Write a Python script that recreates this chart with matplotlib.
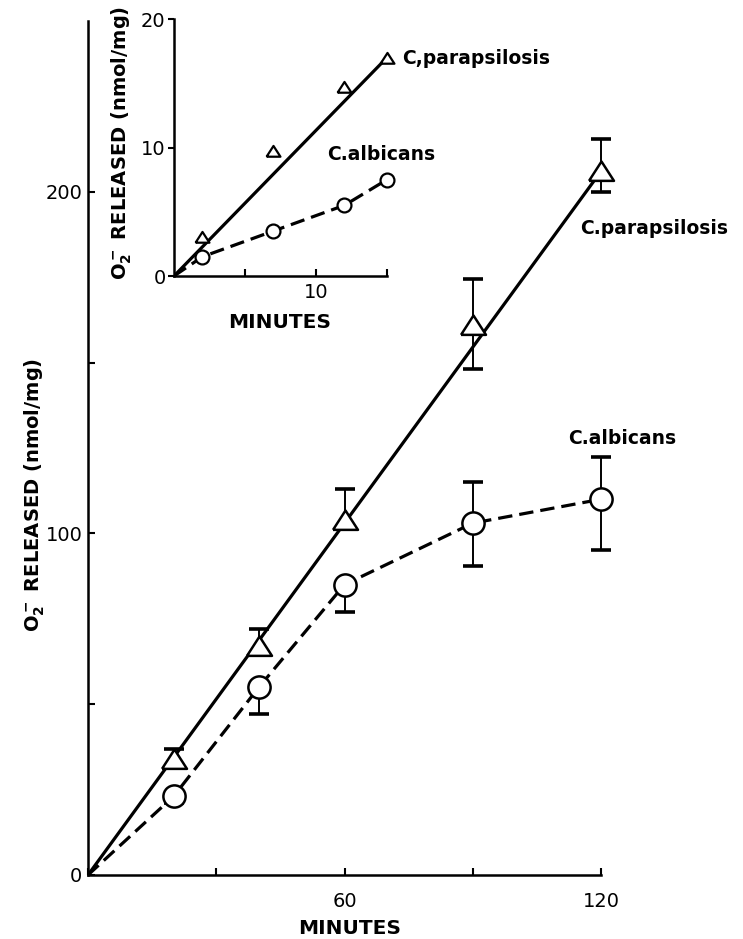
import numpy as np
import matplotlib
matplotlib.use("Agg")
import matplotlib.pyplot as plt
from matplotlib.markers import MarkerStyle

plt.rcParams['font.family'] = ['DejaVu Sans']
plt.rcParams['mathtext.fontset'] = 'dejavusans'
plt.rcParams['mathtext.default'] = 'bf'

# ---------------- data ----------------
# main panel
minutes = [20, 40, 60, 90, 120]
para_y = [34, 67, 104, 161, 206]
para_err_lo = [2, 2, 2, 13, 6]
para_err_hi = [3, 5, 9, 13.5, 9.5]
alb_y = [23, 55, 85, 103, 110]
alb_err_lo = [2, 8, 8, 12.5, 15]
alb_err_hi = [0, 0, 0, 12, 12.4]

main_xticks = [0, 30, 60, 90, 120]
main_xticklabels = ['', '', '60', '', '120']
main_yticks = [0, 50, 100, 150, 200]
main_yticklabels = ['0', '', '100', '', '200']

# inset panel
in_minutes = [2, 7, 12, 15]
in_para_y = [3.0, 9.7, 14.7, 17.0]
in_alb_y = [1.5, 3.5, 5.5, 7.5]
in_xticks = [5, 10, 15]
in_xticklabels = ['', '10', '']
in_yticks = [0, 10, 20]
in_yticklabels = ['0', '10', '20']

ylabel_text = r'O$_2^-$ RELEASED (nmol/mg)'

W, H = 743, 939
fig = plt.figure(figsize=(W / 100, H / 100), dpi=100)


def fx(px):
    return px / W


def fy(py):
    return 1 - py / H


tri = MarkerStyle([(-1, -0.75), (1, -0.75), (0, 0.8), (-1, -0.75)])

# ---------------- main axes ----------------
ax = fig.add_axes([fx(88), fy(875), (601 - 88) / W, (875 - 21) / H])
ax.set_xlim(0, 120)
ax.set_ylim(0, 250)
for s in ['top', 'right']:
    ax.spines[s].set_visible(False)
for s in ['left', 'bottom']:
    ax.spines[s].set_linewidth(1.8)

x = np.array(minutes, dtype=float)
# straight line through origin for C. parapsilosis
slope = para_y[-1] / minutes[-1]
xl = np.array([0.0, minutes[-1]])
ax.plot(xl, slope * xl, color='black', lw=2.3, solid_capstyle='butt', zorder=2)
# connecting dashed line for C. albicans
ax.plot(np.r_[0, x], np.r_[0, alb_y], color='black', lw=2.3,
        ls=(0, (4.5, 2.2)), zorder=2)

ax.errorbar(x, para_y, yerr=[para_err_lo, para_err_hi], fmt='none',
            ecolor='black', elinewidth=1.4, capsize=7, capthick=2.6,
            zorder=3, clip_on=False)
ax.errorbar(x, alb_y, yerr=[alb_err_lo, alb_err_hi], fmt='none',
            ecolor='black', elinewidth=1.4, capsize=7, capthick=2.6,
            zorder=3, clip_on=False)
ax.plot(x, para_y, ls='none', marker=tri, ms=18, mfc='white', mec='black',
        mew=1.8, zorder=4, clip_on=False)
ax.plot(x, alb_y, ls='none', marker='o', ms=16, mfc='white', mec='black',
        mew=1.8, zorder=4, clip_on=False)

ax.set_xticks(main_xticks)
ax.set_xticklabels(main_xticklabels)
ax.set_yticks(main_yticks)
ax.set_yticklabels(main_yticklabels)
ax.tick_params(axis='both', direction='in', length=5, width=1.5,
               labelsize=14)
ax.tick_params(axis='x', pad=12)
ax.tick_params(axis='y', pad=4)

fig.text(fx(350), fy(928), 'MINUTES', ha='center', va='center',
         fontsize=14.5, fontweight='bold')
fig.text(fx(35), fy(495), ylabel_text, rotation=90, ha='center',
         va='center', fontsize=14, fontweight='bold')
fig.text(fx(580), fy(228), 'C.parapsilosis', ha='left', va='center',
         fontsize=13.5, fontweight='bold')
fig.text(fx(568), fy(438), 'C.albicans', ha='left', va='center',
         fontsize=13.5, fontweight='bold')

# ---------------- inset axes ----------------
ax2 = fig.add_axes([fx(174), fy(276), (387 - 174) / W, (276 - 19) / H])
ax2.set_facecolor('none')
ax2.set_xlim(0, 15)
ax2.set_ylim(0, 20)
for s in ['top', 'right']:
    ax2.spines[s].set_visible(False)
for s in ['left', 'bottom']:
    ax2.spines[s].set_linewidth(1.8)

xi = np.array(in_minutes, dtype=float)
slope2 = in_para_y[-1] / in_minutes[-1]
xl2 = np.array([0.0, in_minutes[-1]])
ax2.plot(xl2, slope2 * xl2, color='black', lw=2.3, zorder=2)
ax2.plot(np.r_[0, xi], np.r_[0, in_alb_y], color='black', lw=2.3,
         ls=(0, (4.5, 2.2)), zorder=2)
ax2.plot(xi, in_para_y, ls='none', marker=tri, ms=10, mfc='white',
         mec='black', mew=1.6, zorder=4, clip_on=False)
ax2.plot(xi, in_alb_y, ls='none', marker='o', ms=10, mfc='white',
         mec='black', mew=1.6, zorder=4, clip_on=False)

ax2.set_xticks(in_xticks)
ax2.set_xticklabels(in_xticklabels)
ax2.set_yticks(in_yticks)
ax2.set_yticklabels(in_yticklabels)
ax2.tick_params(axis='x', direction='in', length=5, width=1.5,
                labelsize=14, pad=5)
ax2.tick_params(axis='y', direction='out', length=4, width=1.5,
                labelsize=14, pad=2)

fig.text(fx(280), fy(322), 'MINUTES', ha='center', va='center',
         fontsize=14.5, fontweight='bold')
fig.text(fx(122), fy(143), ylabel_text, rotation=90, ha='center',
         va='center', fontsize=14, fontweight='bold')
fig.text(fx(402), fy(58), 'C,parapsilosis', ha='left', va='center',
         fontsize=13.5, fontweight='bold')
fig.text(fx(327), fy(155), 'C.albicans', ha='left', va='center',
         fontsize=13.5, fontweight='bold')

fig.savefig('out.png', dpi=100, facecolor='white')
